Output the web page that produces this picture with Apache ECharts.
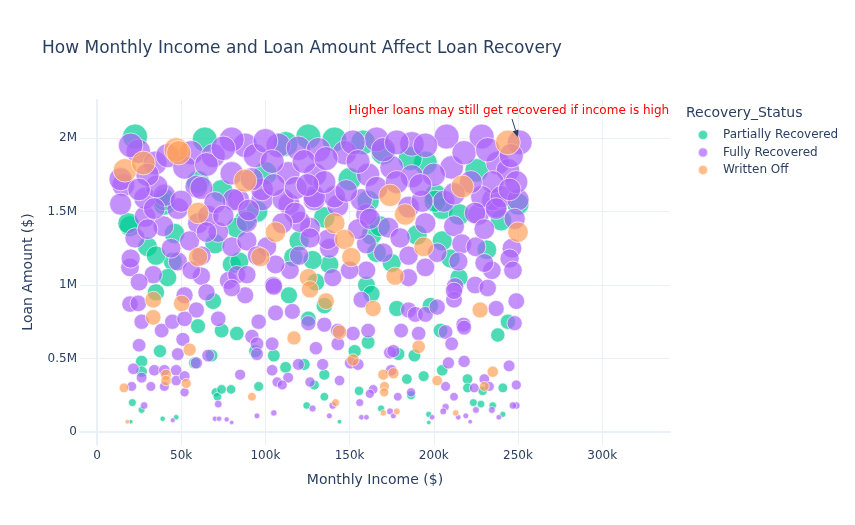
<!DOCTYPE html>
<html>
<head>
<meta charset="utf-8">
<script src="https://cdn.jsdelivr.net/npm/echarts@6.0.0/dist/echarts.min.js"></script>
<style>
html,body{margin:0;padding:0;background:#fff;}
#main{width:855px;height:525px;}
</style>
</head>
<body>
<div id="main"></div>
<script>
// values: [monthly income in k$, loan amount in M$]
var partiallyRecovered = [
    [22.6,2.01],[64,1.99],[125.5,2.01],[141,1.99],[158,1.97],[19.6,1.40],[18.6,1.42],[46,1.35],[40,1.55],[45,1.16],
    [42,1.05],[80,1.14],[35,0.95],[40,1.58],[74,1.64],[88,1.44],[116.6,1.19],[138,1.14],[128,1.17],[84.5,1.16],
    [83,1.39],[163,1.34],[161,1.57],[195,1.83],[225.5,1.78],[201,1.61],[205,1.52],[200.8,1.57],[231.5,1.24],[210,1.18],
    [175,1.15],[168,1.40],[166,1.22],[112,1.96],[170,1.90],[186,1.86],[100,1.76],[150,1.72],[60,1.70],[95,1.50],
    [135,1.46],[30,1.26],[215,1.48],[240,1.44],[250,1.55],[120,1.30],[190,1.34],[70,1.28],[130,1.02],[215,1.05],
    [205,1.30],[35,1.20],[160,1.00],
    [60,0.72],[69,0.89],[74,0.69],[37.4,0.55],[58,0.47],[68,0.52],[26.5,0.48],[26.5,0.41],[21,0.20],[26.5,0.15],
    [39,0.09],[47,0.10],[20,0.07],[70.5,0.27],[71.5,0.24],[74,0.29],[83,0.67],[94,0.55],[105,0.52],[114,0.93],
    [125.5,0.77],[135,0.86],[153,0.55],[123,0.46],[135,0.39],[112,0.44],[129,0.32],[79.6,0.29],[96,0.31],[135,0.24],
    [124.5,0.18],[144,0.07],[155.6,0.28],[163,0.94],[178,0.84],[198,0.86],[244,0.75],[238,0.66],[204,0.69],[161,0.61],
    [188.5,0.52],[179,0.53],[205,0.42],[184,0.36],[194,0.38],[220,0.36],[220,0.30],[229,0.28],[241,0.30],[186.5,0.25],
    [223.5,0.20],[228,0.19],[235,0.18],[168.7,0.16],[197,0.12],[241,0.12],[197,0.065]
];
var fullyRecovered = [
    [28.5,1.465],[22.6,1.32],[39.4,1.40],[48,1.52],[60,1.42],[72,1.36],[80,1.26],[19.6,1.12],[33.4,1.07],[48,1.16],
    [62,1.20],[62,1.06],[78,1.03],[28.5,1.59],[40,1.61],[100.8,1.26],[89,1.30],[83,1.07],[89,1.07],[114.6,1.10],
    [160,1.10],[126.5,1.39],[138,1.25],[137,1.31],[160,1.48],[160,1.28],[104.7,1.00],[84,1.58],[98,1.58],[114,1.55],
    [129,1.58],[143,1.54],[120.6,1.43],[89,1.43],[126.5,1.32],[195,1.42],[212,1.40],[216.6,1.28],[214.6,1.16],[226.5,1.48],
    [237,1.53],[246.4,1.25],[245,1.18],[247,1.10],[234.5,1.10],[173,1.39],[180,1.32],[212.6,0.99],[206,1.57],[235,1.58],
    [24.5,1.91],[15.6,1.68],[34.5,1.83],[35.4,1.67],[56,1.90],[59,1.67],[50,1.57],[69,1.88],[88,1.95],[80,1.99],
    [107.7,1.95],[113.6,1.76],[119.6,1.93],[62,1.66],[80,1.76],[98,1.65],[81,1.58],[90,1.51],[110.6,1.58],[117.6,1.49],
    [66,1.47],[131.5,1.92],[166,1.99],[147,1.90],[187,1.96],[175,1.80],[161,1.75],[129.5,1.75],[141,1.60],[157,1.58],
    [129,1.60],[187,1.74],[185,1.53],[207.6,2.01],[228.4,2.01],[251,1.97],[210.6,1.80],[238,1.83],[244,1.78],[235,1.70],
    [193,1.57],[228.5,1.60],[240,1.60],[250,1.58],[224.5,1.49],[237,1.52],
    [14,1.72],[20,1.95],[30,1.75],[42,1.88],[52,1.80],[65,1.82],[75,1.93],[94,1.88],[100,1.98],[104,1.84],
    [123,1.84],[136,1.86],[152,1.97],[155,1.84],[170,1.92],[178,1.97],[195,1.95],[200,1.75],[218,1.90],[222,1.70],
    [232,1.92],[246,1.88],[249,1.70],[14,1.55],[25,1.65],[34,1.52],[70,1.56],[105,1.68],[118,1.66],[135,1.70],
    [148,1.64],[166,1.66],[178,1.70],[192,1.68],[212,1.62],[245,1.65],[20,1.18],[30,1.38],[55,1.30],[65,1.36],
    [95,1.20],[106,1.14],[120,1.20],[150,1.10],[170,1.22],[185,1.20],[195,1.12],[225,1.26],[230,1.38],[248,1.45],
    [202,1.22],[155,1.38],[110,1.42],[75,1.47],[44,1.25],[25,1.02],[56,1.10],[140,1.05],[185,1.05],[230,1.15],
    [92,1.72],[125,1.68],[162,1.45],
    [19.6,0.87],[24.5,0.875],[26.5,0.75],[38.4,0.69],[44.7,0.75],[52,0.93],[59,0.83],[52,0.77],[72,0.77],[25,0.59],
    [51,0.63],[48,0.53],[59,0.47],[66,0.52],[21.6,0.43],[34,0.42],[26.5,0.37],[40,0.42],[47,0.42],[47,0.35],
    [52,0.38],[40,0.31],[32,0.31],[20.6,0.31],[52,0.27],[28,0.18],[45,0.08],[72,0.19],[70,0.09],[72.5,0.09],
    [96,0.75],[92,0.65],[95,0.60],[95,0.53],[104,0.60],[105,0.99],[116,0.82],[106,0.81],[125.5,0.74],[135,0.73],
    [143,0.69],[152,0.67],[157,0.90],[143,0.60],[130,0.57],[150.5,0.47],[155,0.46],[119.6,0.46],[134,0.46],[85,0.39],
    [104,0.42],[113.5,0.37],[107,0.34],[110,0.32],[126.5,0.34],[144,0.35],[128,0.16],[140,0.18],[138,0.11],[95,0.11],
    [105,0.13],[77,0.086],[80,0.065],[156,0.20],[157,0.10],[88,0.93],[80,0.98],[65,0.95],
    [185,0.83],[189,0.80],[195,0.80],[202,0.85],[212,0.90],[212,0.96],[224.5,1.00],[232,0.98],[237,0.84],[249,0.89],
    [248,0.74],[207,0.68],[217.6,0.73],[218,0.71],[210.6,0.60],[180.6,0.69],[191,0.67],[174,0.54],[176,0.55],[161,0.69],
    [208.7,0.47],[218,0.48],[244.7,0.45],[174.7,0.42],[207,0.31],[230,0.36],[224,0.30],[233,0.31],[249,0.32],[164,0.29],
    [162,0.26],[178.6,0.24],[186.5,0.27],[212,0.24],[249,0.18],[247,0.18],[207,0.17],[205.6,0.14],[225,0.15],[234.5,0.15],
    [174,0.14],[176,0.11],[199,0.10],[214.5,0.10],[219,0.11],[238.6,0.10],[221.6,0.07],[160,0.10]
];
var writtenOff = [
    [16.6,1.78],[27.5,1.83],[47,1.92],[48.5,1.90],[60,1.49],[88,1.71],[106,1.36],[97,1.19],[60,1.19],[125.5,1.05],
    [141,1.42],[147,1.31],[151,1.19],[174,1.61],[183,1.48],[194,1.26],[217,1.67],[244,1.97],[250,1.36],[177,1.06],
    [33.4,0.90],[33.4,0.78],[50.3,0.875],[55,0.56],[41,0.39],[41,0.35],[53,0.33],[16,0.30],[18,0.07],[117,0.64],
    [126.5,0.97],[136,0.89],[144,0.68],[152,0.49],[92,0.24],[141.7,0.20],[164,0.84],[227.5,0.83],[191,0.58],[170,0.39],
    [176,0.40],[202,0.35],[230,0.31],[235,0.41],[170.7,0.31],[170.5,0.27],[170,0.13],[178,0.14],[213,0.13]
];
var statusNames = ['Partially Recovered', 'Fully Recovered', 'Written Off'];
var statusColors = ['#00cc96', '#ab63fa', '#FFA15A'];
var note = {x: 250000, y: 2000000, text: 'Higher loans may still get recovered if income is high'};

var font = '"DejaVu Sans", Verdana, sans-serif';
var ink = '#2a3f5f';
var gridCol = '#ebf0f8';

function toDollars(arr) {
    return arr.map(function (d) { return [d[0] * 1000, d[1] * 1000000]; });
}
var groups = [partiallyRecovered, fullyRecovered, writtenOff];

var myChart = echarts.init(document.getElementById('main'));

var option = {
    backgroundColor: '#fff',
    animation: false,
    title: {
        text: 'How Monthly Income and Loan Amount Affect Loan Recovery',
        left: 37, top: 35,
        textStyle: {fontFamily: font, fontSize: 17, fontWeight: 'normal', color: ink}
    },
    legend: {
        orient: 'vertical',
        left: 692, top: 124,
        itemWidth: 10, itemHeight: 10, itemGap: 5.5,
        icon: 'circle',
        data: statusNames,
        textStyle: {fontFamily: font, fontSize: 12, color: ink, padding: [0, 0, 0, 10]}
    },
    grid: [
        // data grid (full plotting area)
        {left: 80, right: 185, top: 100, bottom: 80},
        // horizontal gridlines + y labels
        {left: 80, right: 185, top: 100, bottom: 93},
        // vertical gridlines + x labels
        {left: 97, right: 185, top: 100, bottom: 80}
    ],
    xAxis: [
        {gridIndex: 0, type: 'value', min: -10095, max: 340260, show: false},
        {gridIndex: 1, type: 'value', min: 0, max: 1, axisLabel: {show: false}, axisTick: {show: false},
            splitLine: {show: false}, axisLine: {show: true, lineStyle: {color: gridCol, width: 2}}},
        {gridIndex: 2, type: 'value', min: 0, max: 340260, interval: 50000,
            axisLine: {show: false}, axisTick: {show: false},
            splitLine: {show: true, showMaxLine: false, lineStyle: {color: gridCol, width: 1}},
            axisLabel: {
                showMaxLabel: false, margin: 5, color: ink, fontFamily: font, fontSize: 12,
                formatter: function (v) { return v === 0 ? '0' : (v / 1000) + 'k'; }
            }
        }
    ],
    yAxis: [
        {gridIndex: 0, type: 'value', min: -88400, max: 2258500, show: false},
        {gridIndex: 1, type: 'value', min: 0, max: 2258500, interval: 500000,
            axisLine: {show: false}, axisTick: {show: false},
            splitLine: {show: true, showMaxLine: false, lineStyle: {color: gridCol, width: 1}},
            axisLabel: {
                showMaxLabel: false, margin: 3, color: ink, fontFamily: font, fontSize: 12,
                formatter: function (v) { return v === 0 ? '0' : (v / 1000000) + 'M'; }
            }
        },
        {gridIndex: 2, type: 'value', min: 0, max: 1, axisLabel: {show: false}, axisTick: {show: false},
            splitLine: {show: false}, axisLine: {show: true, lineStyle: {color: gridCol, width: 2}}}
    ],
    graphic: [
        {type: 'text', x: 375, y: 480, style: {text: 'Monthly Income ($)', font: '14px ' + font, fill: ink, align: 'center', verticalAlign: 'middle'}},
        {type: 'text', x: 28, y: 272, rotation: Math.PI / 2, style: {text: 'Loan Amount ($)', font: '14px ' + font, fill: ink, align: 'center', verticalAlign: 'middle'}},
        {type: 'text', x: 686, y: 113, style: {text: 'Recovery_Status', font: '14px ' + font, fill: ink, align: 'left', verticalAlign: 'middle'}}
    ],
    series: statusNames.map(function (name, i) {
        return {
            name: name,
            type: 'scatter',
            xAxisIndex: 0, yAxisIndex: 0,
            data: toDollars(groups[i]),
            symbolSize: function (d) { return 25 * Math.sqrt(d[1] / 2000000); },
            itemStyle: {color: statusColors[i], opacity: 0.7, borderColor: 'rgba(255,255,255,0.9)', borderWidth: 1}
        };
    })
};
myChart.setOption(option);

// annotation with arrow pointing at the note's data point
var p = myChart.convertToPixel({xAxisIndex: 0, yAxisIndex: 0}, [note.x, note.y]);
var tail = [p[0] - 6, p[1] - 19];
var ang = Math.atan2(p[1] - tail[1], p[0] - tail[0]);
var hx = p[0] - Math.cos(ang) * 1, hy = p[1] - Math.sin(ang) * 1;
var bx = hx - Math.cos(ang) * 7, by = hy - Math.sin(ang) * 7;
var nx = -Math.sin(ang) * 3, ny = Math.cos(ang) * 3;
myChart.setOption({
    graphic: option.graphic.concat([
        {type: 'line', shape: {x1: tail[0], y1: tail[1], x2: bx, y2: by}, style: {stroke: ink, lineWidth: 1}, z: 100},
        {type: 'polygon', shape: {points: [[hx, hy], [bx + nx, by + ny], [bx - nx, by - ny]]}, style: {fill: ink}, z: 100},
        {type: 'text', x: p[0] - 9, y: p[1] - 27, z: 100,
            style: {text: note.text, font: '12px ' + font, fill: '#ff0000', align: 'center', verticalAlign: 'middle'}}
    ])
});
</script>
</body>
</html>
